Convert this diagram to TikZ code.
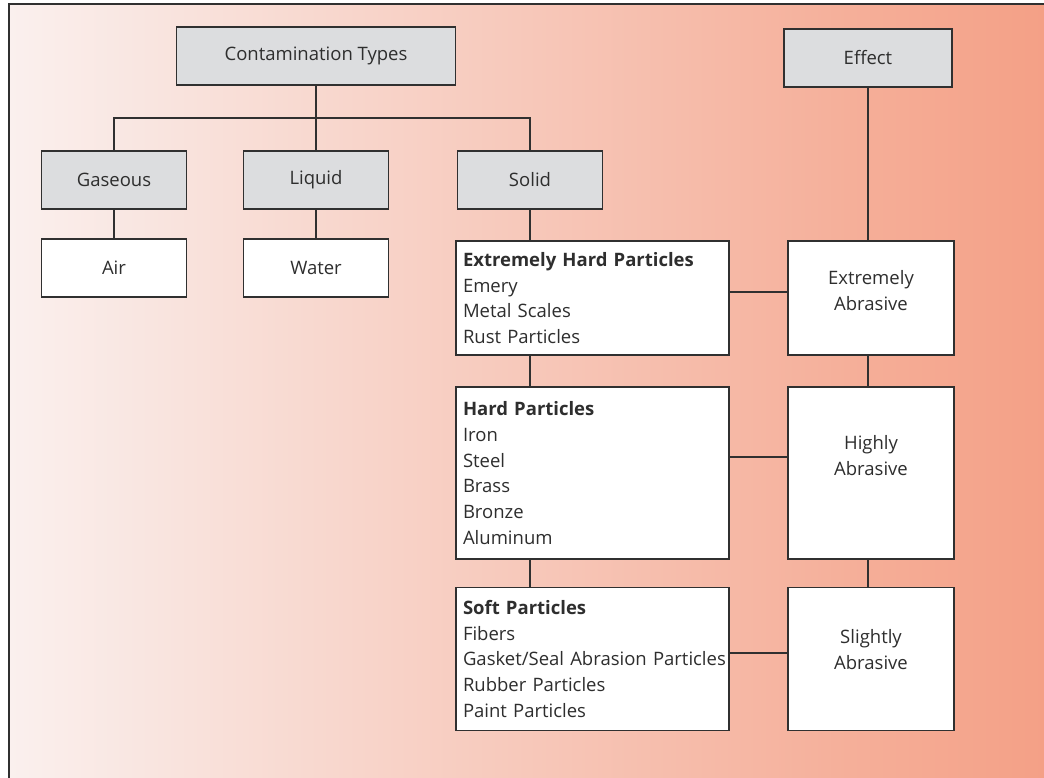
\documentclass[tikz,border=0pt]{standalone}
\usepackage{fontspec}
\setmainfont{Open Sans}
\usetikzlibrary{positioning}
\hyphenpenalty=10000

\definecolor{boxgray}{HTML}{DCDDDF}
\definecolor{linegray}{HTML}{303030}
\definecolor{txtgray}{HTML}{2E2E2E}
\definecolor{bgleft}{HTML}{FAF0EE}
\definecolor{bgmid}{HTML}{F7C8B6}
\definecolor{bgright}{HTML}{F4A086}

\tikzset{
  catbox/.style={rectangle, draw=linegray, line width=1.3pt, fill=boxgray, minimum width=145pt, minimum height=58pt, text=txtgray},
  itembox/.style={rectangle, draw=linegray, line width=1.3pt, fill=white, minimum width=145pt, minimum height=58pt, text=txtgray},
  partbox/.style={itembox, align=left, inner xsep=7pt, inner ysep=9pt, text width=259pt, minimum width=273pt},
  effbox/.style={itembox, align=center, minimum width=166pt},
  link/.style={draw=linegray, line width=1.3pt}
}

\begin{document}
\begin{tikzpicture}[x=1pt, y=-1pt, font=\fontsize{18.5}{25.7}\selectfont]
\useasboundingbox (0,0) rectangle (1044,778);
% Background frame
\fill[white] (0,0) rectangle (1044,778);
\shade[left color=bgleft, middle color=bgmid, right color=bgright] (9,4) rectangle (1044,778);
\draw[linegray, line width=1.5pt] (9,778) -- (9,4) -- (1044,4);

% Contamination types
\node[catbox, minimum width=279pt] (types) at (316,56) {Contamination Types};
\node[catbox] (gaseous) at (114,180) {Gaseous};
\node[catbox] (liquid) at (316,180) {Liquid};
\node[catbox] (solid) at (530,180) {Solid};
\node[itembox] (air) at (114,268) {Air};
\node[itembox] (water) at (316,268) {Water};

% Particle classes
\node[partbox, minimum height=114pt] (xhard) at (592.5,298) {\textbf{Extremely Hard Particles}\\Emery\\Metal Scales\\Rust Particles};
\node[partbox, minimum height=172pt] (hard) at (592.5,473) {\textbf{Hard Particles}\\Iron\\Steel\\Brass\\Bronze\\Aluminum};
\node[partbox, minimum height=143pt] (soft) at (592.5,659) {\textbf{Soft Particles}\\Fibers\\\mbox{Gasket/Seal Abrasion Particles}\\Rubber Particles\\Paint Particles};

% Effect column
\node[catbox, minimum width=168pt] (effect) at (868,58) {Effect};
\node[effbox, minimum height=114pt] (xabr) at (871,298) {Extremely\\Abrasive\\[-10pt]};
\node[effbox, minimum height=172pt] (habr) at (871,473) {Highly\\Abrasive\\[10pt]};
\node[effbox, minimum height=143pt] (sabr) at (871,659) {Slightly\\Abrasive\\[-7pt]};

% Connectors
\draw[link] (types.south) -- (liquid.north);
\draw[link] (gaseous.north) |- (316,118) -| (solid.north);
\draw[link] (gaseous) -- (air);
\draw[link] (liquid) -- (water);
\draw[link] (solid.south) -- (solid.south |- xhard.north);
\draw[link] (solid.south |- xhard.south) -- (solid.south |- hard.north);
\draw[link] (solid.south |- hard.south) -- (solid.south |- soft.north);
\draw[link] (effect.south) -- (effect.south |- xabr.north);
\draw[link] (effect.south |- xabr.south) -- (effect.south |- habr.north);
\draw[link] (effect.south |- habr.south) -- (effect.south |- sabr.north);
\draw[link] ([yshift=6pt]xhard.east) -- ([yshift=6pt]xabr.west);
\draw[link] ([yshift=16pt]hard.east) -- ([yshift=16pt]habr.west);
\draw[link] ([yshift=6pt]soft.east) -- ([yshift=6pt]sabr.west);
\end{tikzpicture}
\end{document}
